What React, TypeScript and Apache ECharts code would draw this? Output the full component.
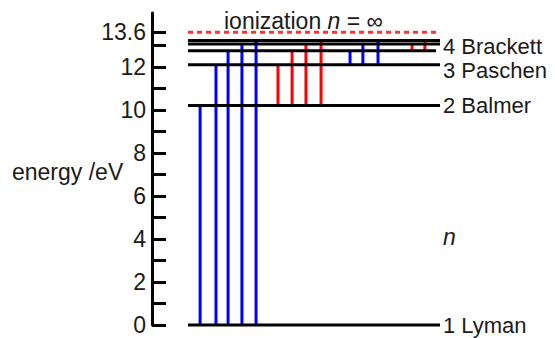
import React, { useEffect, useRef } from "react";
import * as echarts from "echarts";

// Energy levels (eV) for n = 1..6 and ionization limit
const levelN = [1, 2, 3, 4, 5, 6];
const levelEnergies = [0, 10.2, 12.09, 12.75, 13.06, 13.22];
const levelEnds = [100, 100, 100, 98.4, 100, 100];
const ionizationEnergy = 13.6;

// Series labels at the right
const seriesNames = ["1 Lyman", "2 Balmer", "3 Paschen", "4 Brackett"];
const labelNudge = [0, 0, 6, -4];

// Transition positions (x, 0..100 across the level lines) and upper level n
const lymanX = [4.8, 11.1, 15.9, 21.4, 27.0];
const lymanUpper = [2, 3, 4, 5, 6];
const balmerX = [35.7, 41.3, 46.8, 52.8];
const balmerUpper = [3, 4, 5, 6];
const paschenX = [64.3, 69.4, 75.4];
const paschenUpper = [4, 5, 6];
const brackettX = [88.9, 94.0];
const brackettUpper = [5, 6];

// Axis ticks
const tickValues = [0, 1, 2, 3, 4, 5, 6, 7, 8, 9, 10, 11, 12, 13, 13.6];
const labelValues = [0, 2, 4, 6, 8, 10, 12, 13.6];

const FONT = "'Liberation Sans', Arial, sans-serif";

const E = (n: number) => levelEnergies[levelN.indexOf(n)];

function transitions(xs: number[], lower: number, uppers: number[]) {
  return xs.map((x, i) => [x, E(lower), E(uppers[i])]);
}

function verticalSeries(data: number[][], color: string) {
  return {
    type: "custom",
    data,
    renderItem: (_p: any, api: any) => {
      const a = api.coord([api.value(0), api.value(1)]);
      const b = api.coord([api.value(0), api.value(2)]);
      return {
        type: "line",
        shape: { x1: a[0], y1: a[1], x2: b[0], y2: b[1] },
        style: { stroke: color, lineWidth: 3 },
      };
    },
    z: 2,
  };
}

export default function App() {
  const ref = useRef<HTMLDivElement>(null);
  useEffect(() => {
    if (!ref.current) return;
    const chart = echarts.init(ref.current, null, { renderer: "svg" });
    const levelData = levelEnergies.map((e, i) => [0, e, levelEnds[i]]);
    const labelData = seriesNames.map((s, i) => [100, levelEnergies[i], i]);
    chart.setOption({
      animation: false,
      grid: { left: 188, right: 115, top: 13, bottom: 13 },
      xAxis: { type: "value", min: 0, max: 100, show: false },
      yAxis: {
        type: "value",
        min: 0,
        max: 14.5,
        offset: 36,
        splitLine: { show: false },
        axisLine: { show: true, onZero: false, lineStyle: { color: "#000", width: 3 } },
        axisTick: {
          show: true,
          inside: true,
          length: 14,
          lineStyle: { color: "#000", width: 3 },
          customValues: tickValues,
        },
        axisLabel: {
          show: true,
          customValues: labelValues,
          fontSize: 23,
          fontFamily: FONT,
          color: "#1a1a1a",
          margin: 6,
          formatter: (v: number) => String(v),
        },
      },
      graphic: [
        {
          type: "text",
          x: 12,
          y: 172,
          style: {
            text: "energy /eV",
            font: `23px ${FONT}`,
            fill: "#1a1a1a",
            textVerticalAlign: "middle",
          },
        },
        {
          type: "text",
          x: 224,
          y: 21,
          style: {
            text: "{a|ionization }{b|n}{a| = ∞}",
            textVerticalAlign: "middle",
            rich: {
              a: { fontSize: 23, fontFamily: FONT, fill: "#1a1a1a" },
              b: { fontSize: 23, fontFamily: FONT, fontStyle: "italic", fill: "#1a1a1a" },
            },
          },
        },
        {
          type: "text",
          x: 443,
          y: 237,
          style: {
            text: "n",
            font: `italic 23px ${FONT}`,
            fill: "#1a1a1a",
            textVerticalAlign: "middle",
          },
        },
      ],
      series: [
        verticalSeries(transitions(lymanX, 1, lymanUpper), "#0000ff"),
        verticalSeries(transitions(balmerX, 2, balmerUpper), "#ff0000"),
        verticalSeries(transitions(paschenX, 3, paschenUpper), "#0000ff"),
        verticalSeries(transitions(brackettX, 4, brackettUpper), "#ff0000"),
        {
          type: "custom",
          data: levelData,
          z: 3,
          renderItem: (_p: any, api: any) => {
            const a = api.coord([api.value(0), api.value(1)]);
            const b = api.coord([api.value(2), api.value(1)]);
            return {
              type: "line",
              shape: { x1: a[0], y1: a[1], x2: b[0], y2: b[1] },
              style: { stroke: "#000", lineWidth: 3 },
            };
          },
        },
        {
          type: "custom",
          data: [[0, ionizationEnergy, 100]],
          z: 3,
          renderItem: (_p: any, api: any) => {
            const a = api.coord([api.value(0), api.value(1)]);
            const b = api.coord([api.value(2), api.value(1)]);
            return {
              type: "line",
              shape: { x1: a[0], y1: a[1], x2: b[0], y2: b[1] },
              style: { stroke: "#ff3333", lineWidth: 3, lineDash: [5, 4] },
            };
          },
        },
        {
          type: "custom",
          data: labelData,
          z: 4,
          renderItem: (_p: any, api: any) => {
            const idx = api.value(2);
            const p = api.coord([api.value(0), api.value(1)]);
            return {
              type: "text",
              x: p[0] + 3,
              y: p[1] + labelNudge[idx],
              style: {
                text: seriesNames[idx],
                font: `22px ${FONT}`,
                lineHeight: 19,
                fill: "#1a1a1a",
                textVerticalAlign: "middle",
              },
            };
          },
        },
      ],
    });
    return () => chart.dispose();
  }, []);
  return (
    <div
      ref={ref}
      style={{ position: "fixed", left: 0, top: 0, width: 555, height: 338, background: "#fff" }}
    />
  );
}
